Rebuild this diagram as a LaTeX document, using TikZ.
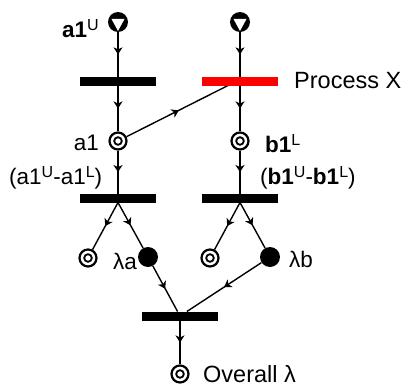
\documentclass[tikz,border=0pt]{standalone}
\usepackage{fontspec}
\setmainfont{Liberation Sans}
\usetikzlibrary{arrows.meta,decorations.markings,backgrounds,calc}
\definecolor{processred}{RGB}{255,0,0}
\newcommand{\supr}[1]{\raisebox{7pt}{\fontsize{16}{16}\selectfont #1}}
\tikzset{
    net label/.style={font=\fontsize{22.5}{27}\selectfont, inner sep=0pt},
    big label/.style={font=\fontsize{23.5}{28}\selectfont, inner sep=0pt},
    trans bar/.style={
        rectangle,
        fill=black,
        minimum width=76pt,
        minimum height=9pt,
        inner sep=0pt,
        outer sep=0pt
    },
    place/.style={
        circle,
        draw=black,
        fill=white,
        line width=2.2pt,
        minimum size=17pt,
        inner sep=0pt,
        path picture={\draw[line width=1.8pt] (path picture bounding box.center) circle (3.8pt);}
    },
    token place/.style={
        circle,
        fill=black,
        minimum size=20pt,
        inner sep=0pt
    },
    source place/.style={
        circle,
        fill=black,
        minimum size=20pt,
        inner sep=0pt,
        path picture={\fill[white] ($(path picture bounding box.center)+(-6.6pt,3.2pt)$) -- ++(13.2pt,0) -- ($(path picture bounding box.center)+(0,-9pt)$) -- cycle;}
    },
    flow/.style={
        line width=1.4pt,
        postaction={decorate},
        decoration={markings,mark=at position 0.5 with {\arrow{Stealth[length=7pt,width=9pt,inset=2pt]}}}
    }
}
\begin{document}
\begin{tikzpicture}[x=1pt,y=-1pt]
    \useasboundingbox (0,0) rectangle (405,386);

    %Places and transitions of branch a
    \node[source place] (src-a) at (118,22) {};
    \node[trans bar] (bar-a1) at (118,81) {};
    \node[place] (a1) at (118,141) {};
    \node[trans bar] (bar-a2) at (118,198) {};
    \node[place] (out-a) at (88,258) {};
    \node[token place] (lam-a) at (148,257) {};

    %Places and transitions of branch b
    \node[source place] (src-b) at (240,22) {};
    \node[trans bar,fill=processred] (proc-x) at (240,81) {};
    \node[place] (b1) at (240,141) {};
    \node[trans bar] (bar-b2) at (240,198) {};
    \node[place] (out-b) at (210,258) {};
    \node[token place] (lam-b) at (270,257) {};

    %Joining transition
    \node[trans bar] (bar-all) at (180,316) {};
    \node[place] (overall) at (180,374) {};

    \coordinate (proc-x-in) at (231,84);

    \begin{pgfonlayer}{background}
        \draw[flow] (src-a) -- (bar-a1);
        \draw[flow] (bar-a1) -- (a1);
        \draw[flow] (a1) -- (bar-a2);
        \draw[flow] (bar-a2.south) -- (out-a);
        \draw[flow] (bar-a2.south) -- (lam-a);
        \draw[flow] (a1) -- (proc-x-in);

        \draw[flow] (src-b) -- (proc-x);
        \draw[flow] (proc-x) -- (b1);
        \draw[flow] (b1) -- (bar-b2);
        \draw[flow] (bar-b2.south) -- (out-b);
        \draw[flow] (bar-b2.south) -- (lam-b);

        \draw[flow] (lam-a) -- (bar-all);
        \draw[flow] (lam-b) -- (bar-all);
        \draw[flow] (bar-all) -- (overall);
    \end{pgfonlayer}

    %Labels
    \node[net label,anchor=base east] (a1U-label) at (99,37) {\textbf{a1}\supr{U}};
    \node[big label,anchor=base west] (procx-label) at (294,88) {Process X};
    \node[net label,anchor=base east] (a1-label) at (99,150) {a1};
    \node[net label,anchor=base west] (b1L-label) at (265,152) {\textbf{b1}\supr{L}};
    \node[net label,anchor=base west] (diff-a-label) at (9,184) {(a1\supr{U}-a1\supr{L})};
    \node[net label,anchor=base west] (diff-b-label) at (260,184) {(\textbf{b1}\supr{U}-\textbf{b1}\supr{L})};
    \node[net label,anchor=base east] (lama-label) at (137,269) {λa};
    \node[net label,anchor=base west] (lamb-label) at (289,267) {λb};
    \node[big label,anchor=base west] (overall-label) at (203,382) {Overall λ};
\end{tikzpicture}
\end{document}
